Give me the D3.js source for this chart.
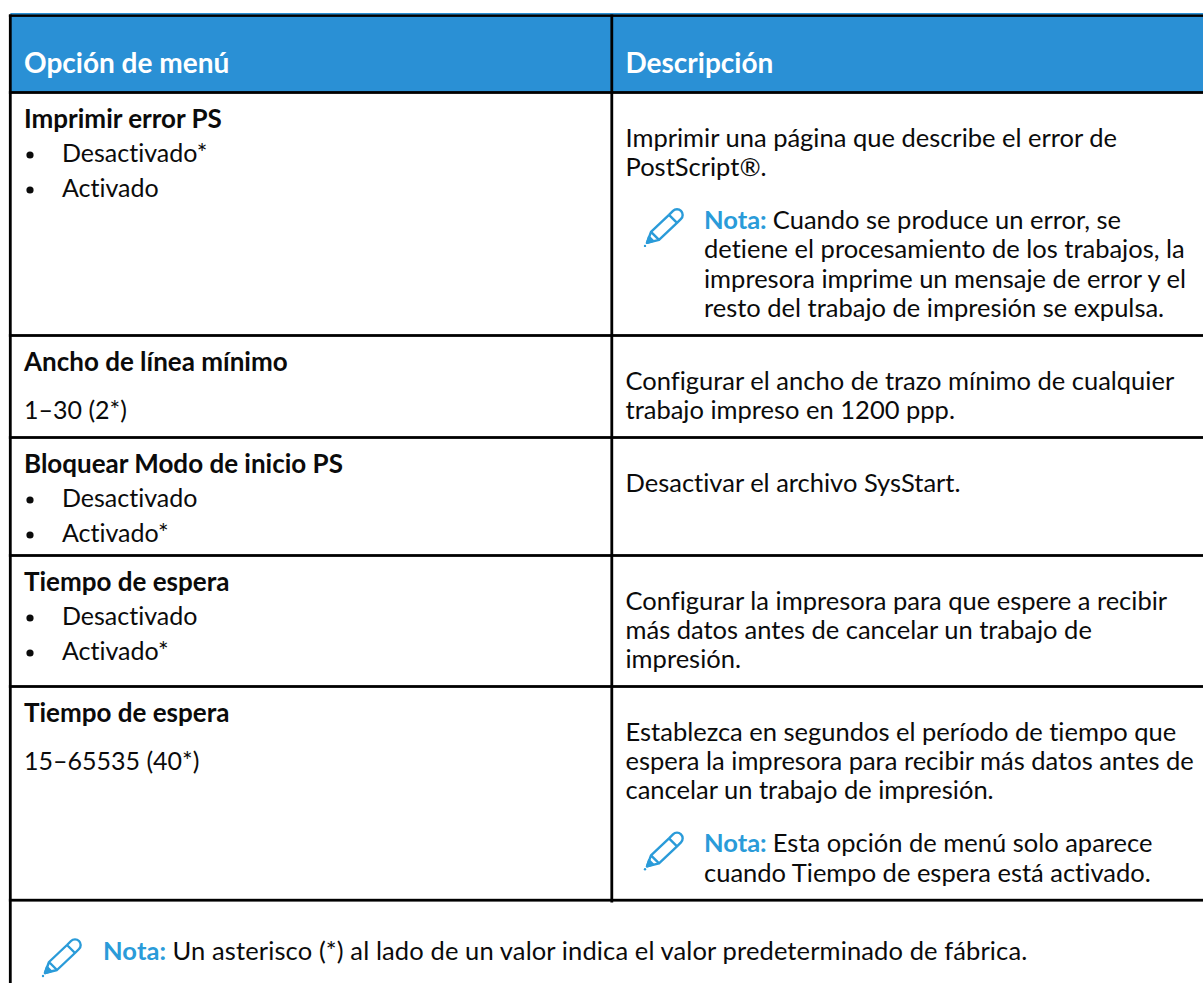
<!DOCTYPE html>
<html>
<head>
<meta charset="utf-8">
<script src="https://cdn.jsdelivr.net/npm/d3@7"></script>
<style>
html, body { margin: 0; padding: 0; background: #fff; overflow: hidden; }
text { font-family: Lato, sans-serif; font-size: 25.5px; fill: #0b0b0b; font-variant-ligatures: none; }
.left { font-size: 25px; }
.bold { font-weight: 700; font-size: 26px; }
.head { font-size: 28px; }
</style>
</head>
<body>
<div class="container"></div>
<script>
const headers = ['Opción de menú', 'Descripción']
const menuTitles = ['Imprimir error PS', 'Ancho de línea mínimo', 'Bloquear Modo de inicio PS', 'Tiempo de espera', 'Tiempo de espera']
const menuBullets = [['Desactivado*', 'Activado'], [], ['Desactivado', 'Activado*'], ['Desactivado', 'Activado*'], []]
const menuRanges = ['', '1–30 (2*)', '', '', '15–65535 (40*)']
const descriptions = [
  ['Imprimir una página que describe el error de', 'PostScript®.'],
  ['Configurar el ancho de trazo mínimo de cualquier', 'trabajo impreso en 1200 ppp.'],
  ['Desactivar el archivo SysStart.'],
  ['Configurar la impresora para que espere a recibir', 'más datos antes de cancelar un trabajo de', 'impresión.'],
  ['Establezca en segundos el período de tiempo que', 'espera la impresora para recibir más datos antes de', 'cancelar un trabajo de impresión.']
]
const rowNotes = [
  ['Cuando se produce un error, se', 'detiene el procesamiento de los trabajos, la', 'impresora imprime un mensaje de error y el', 'resto del trabajo de impresión se expulsa.'],
  [], [], [],
  ['Esta opción de menú solo aparece', 'cuando Tiempo de espera está activado.']
]
const noteLabel = 'Nota:'
const footerNote = 'Un asterisco (*) al lado de un valor indica el valor predeterminado de fábrica.'

const width = 1203
const height = 983
const blue = '#2a90d5'
const noteBlue = '#2a9bd9'
const rowEdges = [92.5, 335.5, 437.5, 555.5, 686.5, 900.2]
const leftX = 10.4
const midX = 611.8
const col1 = 24
const col2 = 625.5
const noteX = 704
const lineH = 29.4

const svg = d3.select('.container').append('svg')
  .attr('width', width)
  .attr('height', height)
  .style('display', 'block')

const rowY = d3.scaleOrdinal().domain(d3.range(rowEdges.length)).range(rowEdges)

// header band
svg.append('rect').attr('x', leftX).attr('y', 13).attr('width', width - leftX).attr('height', rowEdges[0] - 13).attr('fill', blue)
svg.selectAll('.head').data(headers).join('text')
  .attr('class', 'head bold')
  .attr('x', (d, i) => i ? col2 : col1)
  .attr('y', 72.5)
  .style('fill', '#fff')
  .text(d => d)

function pencil(x, y) {
  // slim pencil in a 40 x 39 box, tip at lower left
  const g = svg.append('g').attr('transform', `translate(${x},${y})`)
    .attr('fill', 'none').attr('stroke', noteBlue).attr('stroke-width', 2.4).attr('stroke-linejoin', 'round')
  const p = d3.path()
  p.moveTo(3, 35); p.lineTo(7, 24); p.lineTo(25, 7); p.lineTo(33, 15); p.lineTo(15, 32); p.closePath()
  p.moveTo(7, 24); p.lineTo(15, 32)
  p.moveTo(25, 7); p.lineTo(29, 3)
  p.arc(33, 7, 5.66, -3 * Math.PI / 4, Math.PI / 4)
  p.lineTo(33, 15)
  g.append('path').attr('d', p.toString())
  g.append('path').attr('d', 'M3 35L9 33L5 29Z').attr('fill', noteBlue)
  g.append('circle').attr('cx', 1).attr('cy', 38).attr('r', 1.2).attr('fill', noteBlue).attr('stroke', 'none')
}

function noteLine(x, y, label, txt) {
  const t = svg.append('text').attr('x', x).attr('y', y)
  if (label) {
    t.append('tspan').attr('class', 'bold').style('font-size', '25.5px').style('fill', noteBlue).text(label + ' ')
  }
  t.append('tspan').text(txt)
  return t
}

menuTitles.forEach((title, i) => {
  const top = rowY(i)
  let y = top + 35
  svg.append('text').attr('class', 'bold').attr('x', col1).attr('y', y).text(title)

  menuBullets[i].forEach((b, j) => {
    const by = y + 34.5 + j * 35
    svg.append('circle').attr('cx', 30).attr('cy', by - 7).attr('r', 3.6).attr('fill', '#0b0b0b')
    svg.append('text').attr('class', 'left').attr('x', 62).attr('y', by).text(b)
  })
  if (menuRanges[i]) {
    svg.append('text').attr('class', 'left').attr('x', col1).attr('y', y + 48.5).text(menuRanges[i])
  }

  let dy = top + 54
  svg.selectAll(null).data(descriptions[i]).join('text')
    .attr('x', col2)
    .attr('y', (d, j) => dy + j * lineH)
    .text(d => d)
  if (rowNotes[i].length) {
    const ny = dy + (descriptions[i].length - 1) * lineH + 53
    pencil(644, ny - 21)
    rowNotes[i].forEach((line, j) => noteLine(noteX, ny + j * lineH, j ? '' : noteLabel, line))
  }
})

// footer note
pencil(42, 938)
noteLine(103, 960, noteLabel, footerNote).style('letter-spacing', '0.12px')

// rules
const black = '#000'
svg.append('rect').attr('x', leftX - 1.5).attr('y', 14.5).attr('width', width).attr('height', 2.4).attr('fill', black)
svg.selectAll('.rule').data(rowEdges).join('rect')
  .attr('class', 'rule')
  .attr('x', leftX - 1.5)
  .attr('y', d => d - 1.4)
  .attr('width', width)
  .attr('height', 2.8)
  .attr('fill', black)
svg.append('rect').attr('x', leftX - 1.5).attr('y', 14.5).attr('width', 2.8).attr('height', height).attr('fill', black)
svg.append('rect').attr('x', midX - 1.4).attr('y', 14.5).attr('width', 2.8).attr('height', 888 ).attr('fill', black)
</script>
</body>
</html>
